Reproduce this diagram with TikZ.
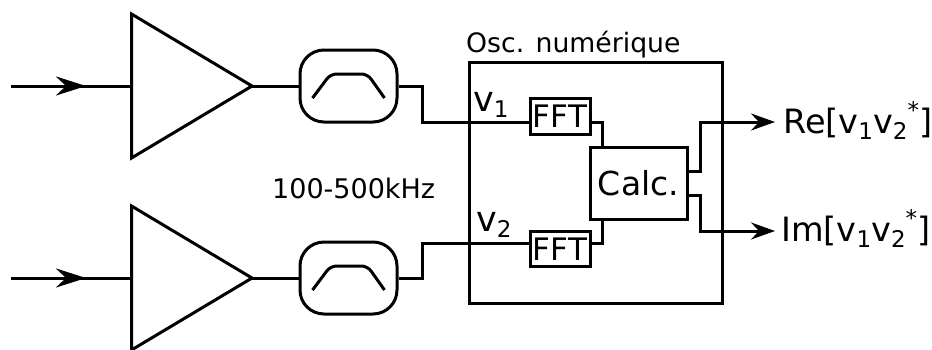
\documentclass[tikz,border=0pt]{standalone}
\usepackage{fontspec}
\setmainfont{DejaVu Sans}
\usetikzlibrary{arrows.meta,calc}
\tikzset{
  wire/.style={line width=3pt,line join=miter},
  sig/.style={wire,-{Stealth[length=30pt,width=19pt,inset=10pt]}},
  outsig/.style={wire,-{Stealth[length=24pt,width=17pt,inset=8pt]}},
  blockbox/.style={draw,line width=3pt,inner sep=0pt},
  filt/.style={blockbox,rounded corners=24pt,minimum width=97pt,minimum height=72pt},
  fftbox/.style={blockbox,minimum width=60pt,minimum height=35.5pt,font=\fontsize{31}{31}\selectfont},
  amp/.style={draw,line width=3pt,line join=miter},
  lab/.style={inner sep=0pt,anchor=base west},
}
\begin{document}
\begin{tikzpicture}[x=1pt,y=-1pt]
\useasboundingbox (0,0) rectangle (932,349);
% outer oscillator block
\node[blockbox,minimum width=253pt,minimum height=241pt] (osc) at (596,182.5) {};
\node[lab,font=\fontsize{26.7}{26.7}\selectfont] (osclab) at (466,52) {Osc. numérique};
\node[lab,font=\fontsize{27}{27}\selectfont] (bw) at (272,198) {100-500kHz};
% amplifiers
\coordinate (a1t) at (131.5,14); \coordinate (a1b) at (131.5,158); \coordinate (a1o) at (252,86);
\coordinate (a2t) at (131.5,206); \coordinate (a2b) at (131.5,350); \coordinate (a2o) at (252,278);
\draw[amp] (a1t) -- (a1o) -- (a1b) -- cycle;
\draw[amp] (a2t) -- (a2o) -- (a2b) -- cycle;
% filters
\node[filt] (f1) at (348.5,86) {};
\node[filt] (f2) at (348.5,278) {};
\draw[wire,line join=round,rounded corners=6pt] (f1.center)++(-36,12) -- ++(18,-24) -- ++(37,0) -- ++(17,24);
\draw[wire,line join=round,rounded corners=6pt] (f2.center)++(-36,12) -- ++(18,-24) -- ++(37,0) -- ++(17,24);
% FFT and calculation blocks
\node[fftbox] (fft1) at (560,116.5) {FFT};
\node[fftbox] (fft2) at (560,249) {FFT};
\node[blockbox,minimum width=97pt,minimum height=72pt,font=\fontsize{33}{33}\selectfont] (calc) at (638.5,183) {Calc.};
% inputs
\coordinate (in1) at (11,86); \coordinate (in2) at (11,278);
\coordinate (m1) at (86,86); \coordinate (m2) at (86,278);
\draw[wire] (in1) -- (a1t |- in1);
\draw[wire] (in2) -- (a2t |- in2);
\draw[sig] (in1) -- (m1);
\draw[sig] (in2) -- (m2);
\draw[wire] (a1o) -- (f1.west);
\draw[wire] (a2o) -- (f2.west);
% filter to FFT
\coordinate (p1) at (fft1.west |- 0,122);
\coordinate (p2) at (fft2.west |- 0,243);
\draw[wire] (f1.east) -- ++(24,0) |- (p1);
\draw[wire] (f2.east) -- ++(24,0) |- (p2);
% FFT to Calc
\coordinate (q1) at (fft1.east |- 0,122);
\coordinate (q2) at (fft2.east |- 0,243);
\draw[wire] (q1) -| (calc.north west -| 602,0) ;
\draw[wire] (q2) -| (calc.south west -| 602,0) ;
% outputs
\coordinate (r1) at (calc.east |- 0,171);
\coordinate (r2) at (calc.east |- 0,195);
\coordinate (o1) at (775,122);
\coordinate (o2) at (775,231);
\draw[outsig] (r1) -- ++(12,0) |- (o1);
\draw[outsig] (r2) -- ++(12,0) |- (o2);
% signal labels
\newcommand{\smallsub}[1]{\raisebox{-6.5pt}{\fontsize{23}{23}\selectfont #1}}
\newcommand{\smallsup}{\raisebox{15pt}{\fontsize{23}{23}\selectfont *}}
\node[lab,font=\fontsize{35}{35}\selectfont] (v1) at (473,111) {v\smallsub{1}};
\node[lab,font=\fontsize{35}{35}\selectfont] (v2) at (476,231) {v\smallsub{2}};
\node[lab,font=\fontsize{33.5}{33.5}\selectfont] (re) at (783,133) {Re[v\smallsub{1}v\smallsub{2}\smallsup]};
\node[lab,font=\fontsize{33.5}{33.5}\selectfont] (im) at (781,241) {Im[v\smallsub{1}v\smallsub{2}\smallsup]};
\end{tikzpicture}
\end{document}
